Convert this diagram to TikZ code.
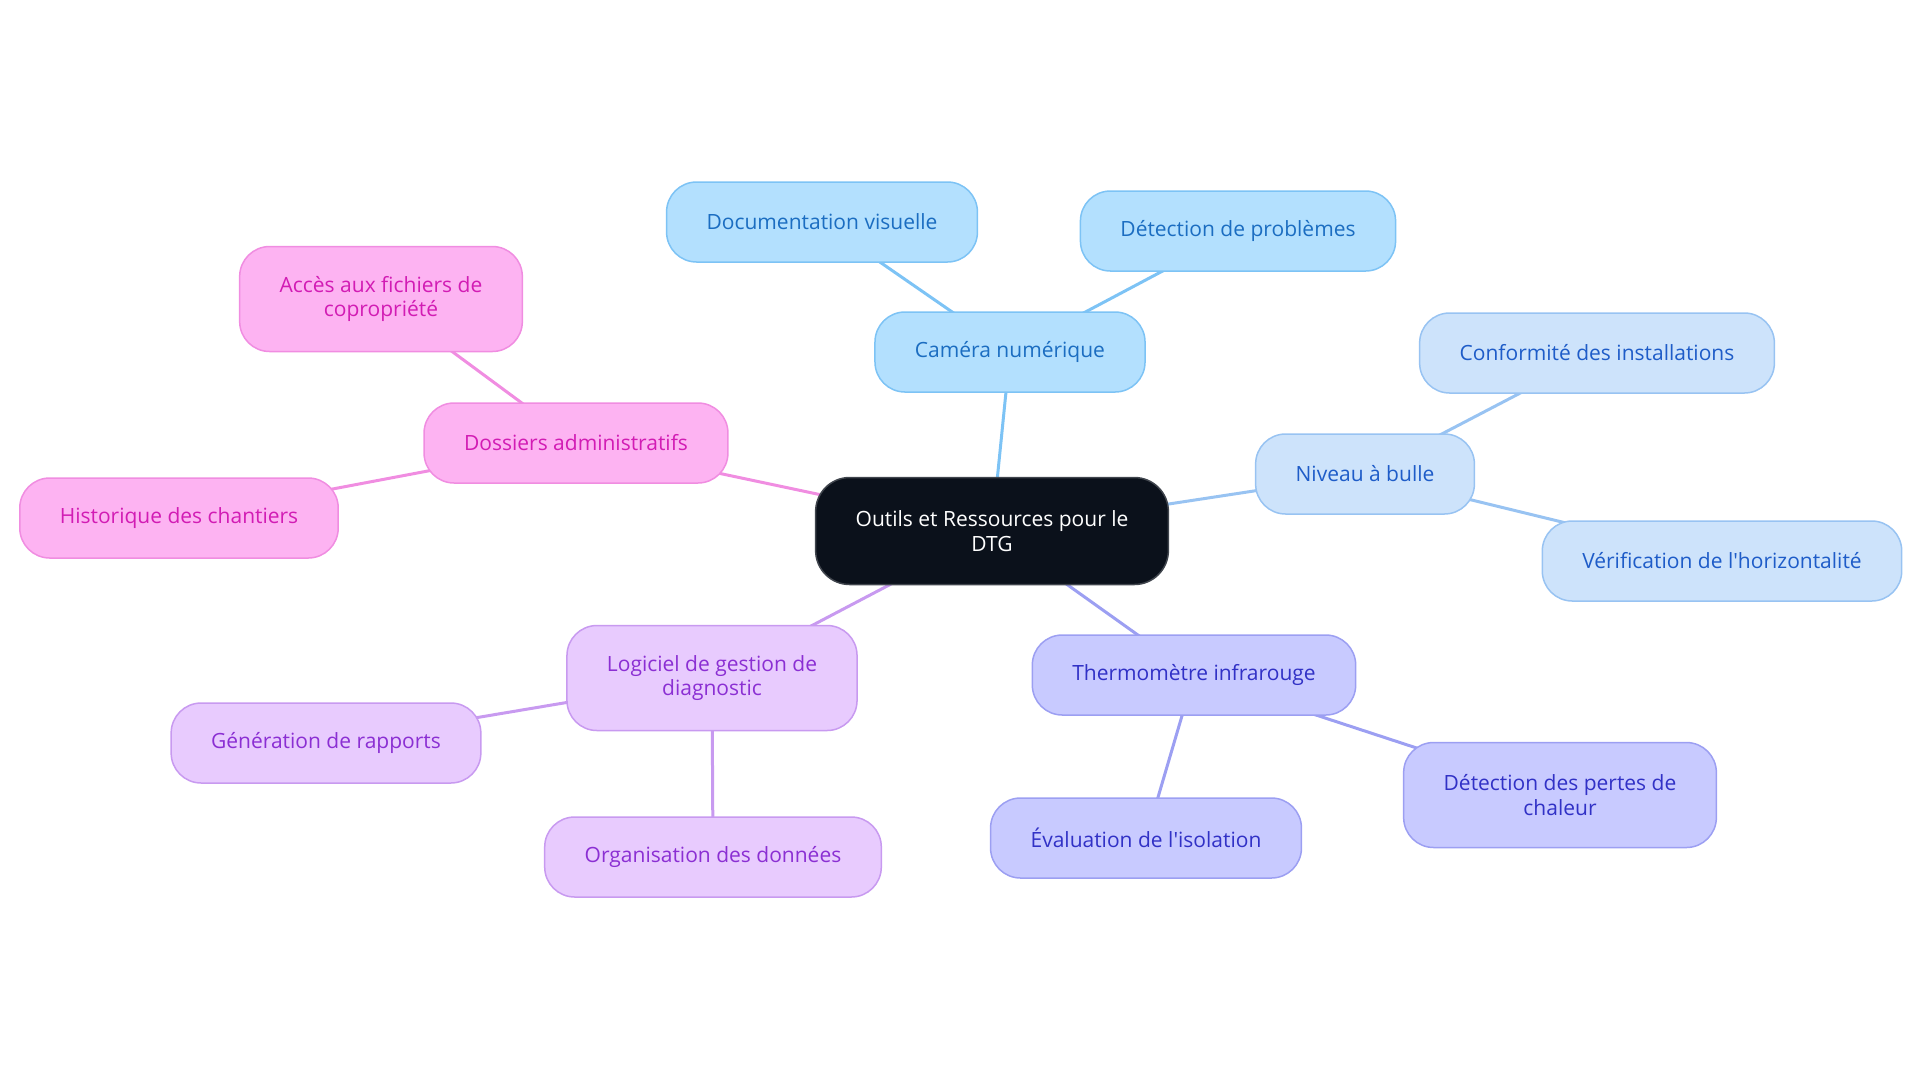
\documentclass[tikz,border=0pt]{standalone}
\usepackage{fontspec}
\setmainfont{Open Sans}
\usetikzlibrary{backgrounds}

\definecolor{rootfill}{HTML}{0B111B}
\definecolor{rootline}{HTML}{40454D}
\definecolor{camfill}{HTML}{B3E0FE}
\definecolor{camline}{HTML}{7DC3F5}
\definecolor{camtext}{HTML}{1B6DC1}
\definecolor{nivfill}{HTML}{CDE3FB}
\definecolor{nivline}{HTML}{98C3F2}
\definecolor{nivtext}{HTML}{1E5CC8}
\definecolor{thermofill}{HTML}{C8CAFF}
\definecolor{thermoline}{HTML}{9C9FF2}
\definecolor{thermotext}{HTML}{3131C6}
\definecolor{logifill}{HTML}{E8CBFE}
\definecolor{logiline}{HTML}{C89AF0}
\definecolor{logitext}{HTML}{8B2FD3}
\definecolor{dossfill}{HTML}{FDB3F2}
\definecolor{dossline}{HTML}{F08DE1}
\definecolor{dosstext}{HTML}{D21CB4}

\begin{document}
\begin{tikzpicture}[x=0.5pt, y=-0.5pt,
    box/.style={rounded corners=15pt, line width=0.75pt, align=center,
        font=\fontsize{10.5pt}{12.25pt}\selectfont, inner xsep=20pt,
        minimum height=40pt},
    twoline/.style={minimum height=52.5pt},
    root/.style={box, fill=rootfill, draw=rootline, text=white,
        minimum height=53.5pt, rounded corners=17pt},
    cam/.style={box, fill=camfill, draw=camline, text=camtext},
    niv/.style={box, fill=nivfill, draw=nivline, text=nivtext},
    thermo/.style={box, fill=thermofill, draw=thermoline, text=thermotext},
    logi/.style={box, fill=logifill, draw=logiline, text=logitext},
    doss/.style={box, fill=dossfill, draw=dossline, text=dosstext},
    link/.style={line width=1.5pt}]
    \useasboundingbox (0,0) rectangle (1920,1083);

    \node[root] (dtg) at (992,531) {Outils et Ressources pour le\\DTG};

    \node[cam] (cam) at (1010,352) {Caméra numérique};
    \node[cam] (docv) at (822,222) {Documentation visuelle};
    \node[cam] (detp) at (1238,231) {Détection de problèmes};

    \node[niv] (niv) at (1365,474) {Niveau à bulle};
    \node[niv] (conf) at (1597,353) {Conformité des installations};
    \node[niv] (verif) at (1722,561) {Vérification de l\textquotesingle horizontalité};

    \node[thermo] (thermo) at (1194,675) {Thermomètre infrarouge};
    \node[thermo] (isol) at (1146,838) {Évaluation de l\textquotesingle isolation};
    \node[thermo, twoline] (pertes) at (1560,795) {Détection des pertes de\\chaleur};

    \node[logi, twoline] (logi) at (712,678) {Logiciel de gestion de\\diagnostic};
    \node[logi] (rapp) at (326,743) {Génération de rapports};
    \node[logi] (orga) at (713,857) {Organisation des données};

    \node[doss] (doss) at (576,443) {Dossiers administratifs};
    \node[doss, twoline] (acces) at (381,299) {Accès aux fichiers de\\copropriété};
    \node[doss] (hist) at (179,518) {Historique des chantiers};

    \begin{scope}[on background layer]
    \draw[link, camline] (dtg.center) -- (cam.center);
    \draw[link, camline] (cam.center) -- (docv.center);
    \draw[link, camline] (cam.center) -- (detp.center);
    \draw[link, nivline] (dtg.center) -- (niv.center);
    \draw[link, nivline] (niv.center) -- (conf.center);
    \draw[link, nivline] (niv.center) -- (verif.center);
    \draw[link, thermoline] (dtg.center) -- (thermo.center);
    \draw[link, thermoline] (thermo.center) -- (isol.center);
    \draw[link, thermoline] (thermo.center) -- (pertes.center);
    \draw[link, logiline] (dtg.center) -- (logi.center);
    \draw[link, logiline] (logi.center) -- (rapp.center);
    \draw[link, logiline] (logi.center) -- (orga.center);
    \draw[link, dossline] (dtg.center) -- (doss.center);
    \draw[link, dossline] (doss.center) -- (acces.center);
    \draw[link, dossline] (doss.center) -- (hist.center);
    \end{scope}
\end{tikzpicture}
\end{document}
